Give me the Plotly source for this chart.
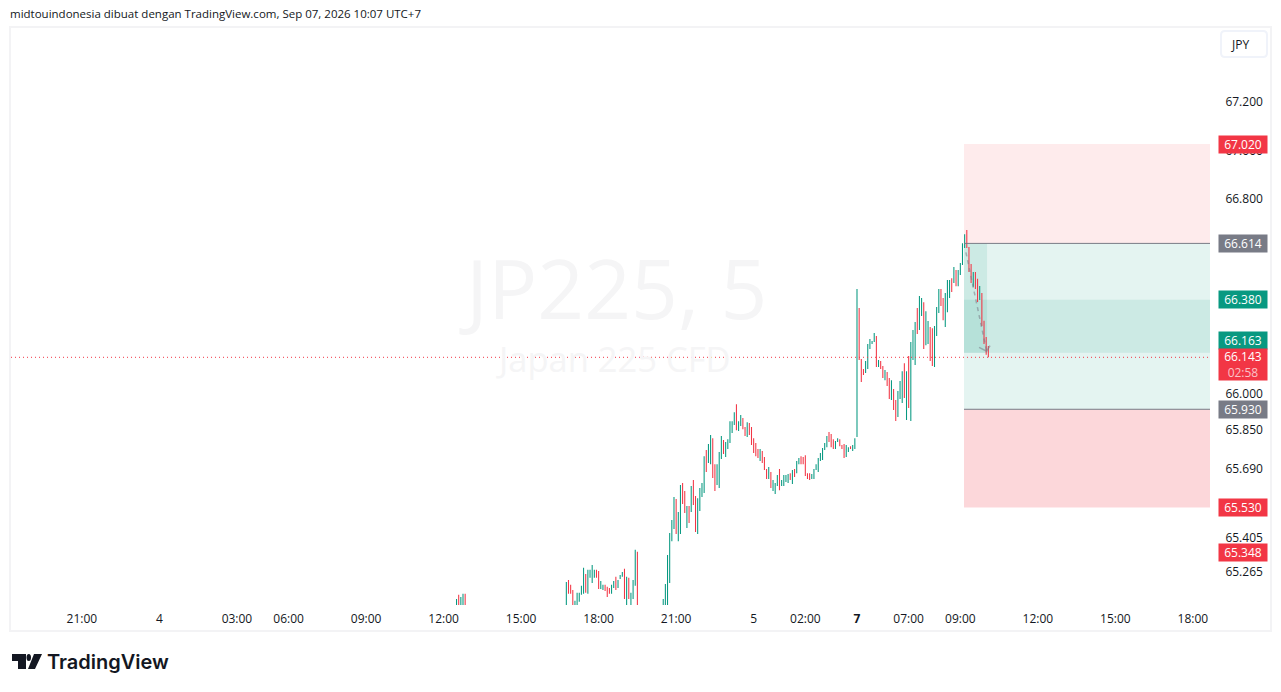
import plotly.graph_objects as go

FONT = "Open Sans"
GREEN = "#089981"
RED = "#F23645"
GRAY = "#787B86"
TEXT = "#131722"

# bars are placed by bar number, 0 is the Monday open ("7"), one bar = 5 min
first_highs = [65.154, 65.171, 65.162, 65.175, 65.175]
first_lows = [65.10, 65.10, 65.10, 65.10, 65.10]
first_dirs = "GRGGR"
first_start = -186

second_highs = [65.224, 65.232, 65.212, 65.191, 65.146, 65.179, 65.179, 65.208, 65.282, 65.257,
                65.274, 65.274, 65.294, 65.274, 65.274, 65.269, 65.228, 65.212, 65.212, 65.204,
                65.199, 65.212, 65.228, 65.245, 65.232, 65.253, 65.265, 65.278, 65.245, 65.241,
                65.179, 65.232, 65.356, 65.348]
second_lows = [65.10, 65.175, 65.175, 65.10, 65.10, 65.10, 65.142, 65.171, 65.175, 65.179,
               65.175, 65.241, 65.220, 65.241, 65.241, 65.195, 65.195, 65.191, 65.187, 65.162,
               65.175, 65.175, 65.199, 65.191, 65.199, 65.236, 65.245, 65.154, 65.10, 65.154,
               65.10, 65.154, 65.208, 65.10]
second_dirs = "GRRRGGGGGR" "GGGGRRGGRR" "RGGRGGGRGR" "GGGR"
second_start = -135

third_highs = [65.154, 65.215, 65.335, 65.425, 65.479, 65.574, 65.565, 65.512, 65.623, 65.631,
               65.598, 65.537, 65.537, 65.619, 65.644, 65.578, 65.569, 65.611, 65.631, 65.742,
               65.767, 65.792, 65.829, 65.816, 65.709, 65.709, 65.759, 65.825, 65.808, 65.800,
               65.812, 65.886, 65.886, 65.923, 65.956, 65.886, 65.911, 65.899, 65.862, 65.882,
               65.878, 65.862, 65.816, 65.796, 65.771, 65.771, 65.763, 65.738, 65.689, 65.697,
               65.677, 65.644, 65.631, 65.664, 65.689, 65.644, 65.664, 65.664, 65.668, 65.672,
               65.685, 65.689, 65.722, 65.734, 65.742, 65.738, 65.746, 65.672, 65.672, 65.668,
               65.689, 65.709, 65.734, 65.755, 65.775, 65.796, 65.825, 65.841, 65.833, 65.812,
               65.804, 65.816, 65.812, 65.788, 65.792, 65.788, 65.779, 65.783, 65.788, 65.816]
third_lows = [65.10, 65.10, 65.10, 65.220, 65.392, 65.442, 65.421, 65.392, 65.421, 65.545,
              65.508, 65.446, 65.467, 65.512, 65.541, 65.430, 65.421, 65.516, 65.574, 65.590,
              65.677, 65.714, 65.709, 65.652, 65.598, 65.623, 65.611, 65.730, 65.751, 65.738,
              65.771, 65.796, 65.837, 65.870, 65.849, 65.845, 65.866, 65.853, 65.825, 65.821,
              65.829, 65.788, 65.755, 65.742, 65.734, 65.722, 65.714, 65.685, 65.648, 65.648,
              65.611, 65.598, 65.586, 65.619, 65.602, 65.619, 65.619, 65.635, 65.631, 65.644,
              65.627, 65.656, 65.672, 65.709, 65.709, 65.709, 65.660, 65.648, 65.644, 65.648,
              65.648, 65.685, 65.677, 65.722, 65.726, 65.767, 65.779, 65.800, 65.779, 65.771,
              65.771, 65.800, 65.783, 65.771, 65.734, 65.738, 65.759, 65.771, 65.763, 65.771]
third_dirs = "GGGGGGRGGR" "RGRGRRGGGG" "RGGRRGGGRG" "GGGGRGGRRG" "RRRRRGRRRG" \
             "RGGGRGGGGR" "GRGGRRRRRG" "GGGGGGGRRR" "GGRRRGGRGG"
third_start = -90

last_highs = [66.430, 66.352, 66.142, 66.101, 66.134, 66.204, 66.224, 66.216, 66.249, 66.237,
              66.138, 66.134, 66.113, 66.097, 66.088, 66.064, 66.055, 66.018, 65.973, 66.010,
              66.051, 66.092, 66.125, 66.092, 66.154, 66.212, 66.261, 66.294, 66.352, 66.401,
              66.393, 66.376, 66.339, 66.298, 66.274, 66.269, 66.278, 66.356, 66.430, 66.430,
              66.393, 66.414, 66.467, 66.467, 66.475, 66.521, 66.508, 66.508, 66.537, 66.619,
              66.656, 66.673, 66.603, 66.533, 66.500, 66.500, 66.472, 66.443, 66.414, 66.299,
              66.233, 66.196]
last_lows = [65.821, 66.138, 66.047, 66.076, 66.084, 66.101, 66.183, 66.204, 66.212, 66.109,
             66.109, 66.101, 66.064, 66.055, 66.031, 65.977, 65.973, 65.932, 65.887, 65.903,
             65.977, 65.961, 65.981, 65.891, 65.940, 65.887, 66.138, 66.117, 66.245, 66.261,
             66.319, 66.183, 66.199, 66.204, 66.134, 66.113, 66.109, 66.237, 66.331, 66.360,
             66.302, 66.274, 66.335, 66.393, 66.418, 66.455, 66.442, 66.442, 66.488, 66.529,
             66.599, 66.599, 66.500, 66.455, 66.439, 66.430, 66.377, 66.385, 66.278, 66.204,
             66.159, 66.149]
last_dirs = "GRRRGGGGGR" "GRRGRRGRRG" "GGRGRGGGRG" "GRGGRRGGGR" "RGGGRGRGGG" "GRRRGRRGRR" "RR"
last_start = 0

tick_bars = [-360, -324, -288, -264, -228, -192, -156, -120, -84, -48, -24, 0, 24, 48, 84, 120, 156]
tick_labels = ["21:00", "4", "03:00", "06:00", "09:00", "12:00", "15:00", "18:00", "21:00", "5",
               "02:00", "<b>7</b>", "07:00", "09:00", "12:00", "15:00", "18:00"]
price_ticks = [67.2, 67.0, 66.8, 66.4, 66.0, 65.85, 65.69, 65.405, 65.265]

# where the levels sit on the price scale, as read from the box edges
stop_price = 67.027
entry_high = 66.618
level_mid = 66.386
level_now = 66.168
entry_low = 65.935
target_price = 65.530
prev_close = 65.346
last_price = 66.149

box_start = 49.7
pnl_end = 60.4
path_bars = [50.6, 60.2]
path_prices = [66.581, 66.174]
head_bars = [56.7, 60.2, 61.8]
head_prices = [66.190, 66.174, 66.197]

# pixel frame of the plot area
W, H = 1281, 692
L, R, T, B = 11, 1210, 28, 605
X_RANGE = [-392.94, 163.96]
Y_RANGE = [65.129, 67.505]


def px(x):
    return (x - L) / (R - L)


def py(y):
    return (B - y) / (B - T)


xs, opens, highs, lows, closes = [], [], [], [], []
for start, hi, lo, dirs in [(first_start, first_highs, first_lows, first_dirs),
                            (second_start, second_highs, second_lows, second_dirs),
                            (third_start, third_highs, third_lows, third_dirs),
                            (last_start, last_highs, last_lows, last_dirs)]:
    for i in range(len(hi)):
        xs.append(start + i)
        highs.append(hi[i])
        lows.append(lo[i])
        if dirs[i] == "G":
            opens.append(lo[i])
            closes.append(hi[i])
        else:
            opens.append(hi[i])
            closes.append(lo[i])

fig = go.Figure()
fig.add_trace(go.Scatter(x=path_bars, y=path_prices, mode="lines", showlegend=False, hoverinfo="skip",
                         line=dict(color="rgba(120,123,134,0.55)", width=1.5, dash="4px,4px")))
fig.add_trace(go.Scatter(x=head_bars, y=head_prices, mode="lines", showlegend=False, hoverinfo="skip",
                         line=dict(color="rgba(120,123,134,0.55)", width=1.5)))
fig.add_trace(go.Candlestick(
    x=xs, open=opens, high=highs, low=lows, close=closes, whiskerwidth=0,
    increasing=dict(line=dict(color=GREEN, width=0), fillcolor=GREEN),
    decreasing=dict(line=dict(color=RED, width=0), fillcolor=RED),
    showlegend=False, hoverinfo="skip"))


def band(x0, x1, y0, y1, color):
    fig.add_shape(type="rect", xref="x", yref="y", x0=x0, x1=x1, y0=y0, y1=y1,
                  fillcolor=color, line_width=0, layer="below")


right = X_RANGE[1]
band(box_start, right, entry_high, stop_price, "rgba(242,54,69,0.10)")
band(box_start, right, entry_low, entry_high, "rgba(8,153,129,0.11)")
band(box_start, right, level_now, level_mid, "rgba(8,153,129,0.11)")
band(box_start, pnl_end, level_now, entry_high, "rgba(8,153,129,0.11)")
band(box_start, right, target_price, entry_low, "rgba(242,54,69,0.20)")
for level in [entry_high, entry_low]:
    fig.add_shape(type="line", xref="x", yref="y", x0=box_start, x1=right, y0=level, y1=level,
                  line=dict(color=GRAY, width=1))
fig.add_shape(type="line", xref="x", yref="y", x0=X_RANGE[0], x1=right, y0=last_price, y1=last_price,
              line=dict(color=RED, width=1, dash="1px,3px"))

# outer frame
fig.add_shape(type="rect", xref="paper", yref="paper", x0=px(10), x1=px(1271), y0=py(631), y1=py(27),
              line=dict(color="#F3F3F5", width=2), layer="below")
fig.add_shape(type="path", xref="paper", yref="paper", line=dict(color="#F0F3FA", width=2),
              path=f"M {px(1225)} {py(31)} L {px(1263)} {py(31)} Q {px(1267)} {py(31)} {px(1267)} {py(35)} "
                   f"L {px(1267)} {py(53)} Q {px(1267)} {py(57)} {px(1263)} {py(57)} L {px(1225)} {py(57)} "
                   f"Q {px(1221)} {py(57)} {px(1221)} {py(53)} L {px(1221)} {py(35)} Q {px(1221)} {py(31)} {px(1225)} {py(31)} Z")

# logo mark
LOGO = "#131722"
fig.add_shape(type="path", xref="paper", yref="paper", fillcolor=LOGO, line_width=0,
              path=f"M {px(12)} {py(654)} L {px(26)} {py(654)} L {px(26)} {py(669)} L {px(18)} {py(669)} "
                   f"L {px(18)} {py(661)} L {px(12)} {py(661)} Z")
fig.add_shape(type="circle", xref="paper", yref="paper", fillcolor=LOGO, line_width=0,
              x0=px(26.5), x1=px(31), y0=py(661), y1=py(654))
fig.add_shape(type="path", xref="paper", yref="paper", fillcolor=LOGO, line_width=0,
              path=f"M {px(34)} {py(654)} L {px(42)} {py(654)} L {px(35)} {py(669)} L {px(28)} {py(669)} Z")


def price_label(price, text, color, yshift=0, height=17):
    fig.add_annotation(xref="paper", yref="y", x=px(1243), y=price, text=text, showarrow=False,
                       xanchor="center", yanchor="middle",
                       bgcolor=color, width=48, height=height, borderpad=0, yshift=yshift,
                       font=dict(family=FONT, size=12, color="white", weight=500))


price_label(stop_price, "67.020", RED)
price_label(entry_high, "66.614", GRAY)
price_label(level_mid, "66.380", GREEN)
price_label(level_now, "66.163", GREEN, yshift=12)
price_label(last_price, "66.143<br><span style='color:#FBC2C7'>02:58</span>", RED, yshift=-7, height=31)
price_label(entry_low, "65.930", GRAY)
price_label(target_price, "65.530", RED)
price_label(prev_close, "65.348", RED)


def text_at(x, y, text, size, color=TEXT, anchor="left", weight="normal", family=FONT):
    fig.add_annotation(xref="paper", yref="paper", x=px(x), y=py(y), text=text, showarrow=False,
                       xanchor=anchor, yanchor="middle", borderpad=0,
                       font=dict(family=family, size=size, color=color, weight=weight))


text_at(9, 14, "midtouindonesia dibuat dengan TradingView.com, Sep 07, 2026 10:07 UTC+7", 11.5)
text_at(1240, 45, "JPY", 12, anchor="center")
text_at(46, 662, "TradingView", 20, weight=600, family="Inter")
text_at(613, 287, "JP225, 5", 82, color="#F5F5F6", anchor="center")
text_at(613, 358, "Japan 225 CFD", 34.5, color="#F5F5F6", anchor="center")

fig.update_layout(
    width=W, height=H, margin=dict(l=L, r=W - R, t=T, b=H - B, pad=0),
    paper_bgcolor="white", plot_bgcolor="white",
    font=dict(family=FONT, size=12, color=TEXT),
    showlegend=False, hovermode=False,
    xaxis=dict(range=X_RANGE, rangeslider_visible=False, showgrid=False, zeroline=False, showline=False,
               tickmode="array", tickvals=tick_bars, ticktext=tick_labels, ticks="outside", ticklen=3,
               tickcolor="rgba(0,0,0,0)", tickangle=0),
    yaxis=dict(range=Y_RANGE, side="right", showgrid=False, zeroline=False, showline=False,
               tickmode="array", tickvals=price_ticks, ticktext=[f"{p:.3f}" for p in price_ticks],
               ticks="outside", ticklen=12, tickcolor="rgba(0,0,0,0)"),
)

fig.write_html("out.html", config={"displayModeBar": False},
               post_script="document.body.style.margin='0';")
